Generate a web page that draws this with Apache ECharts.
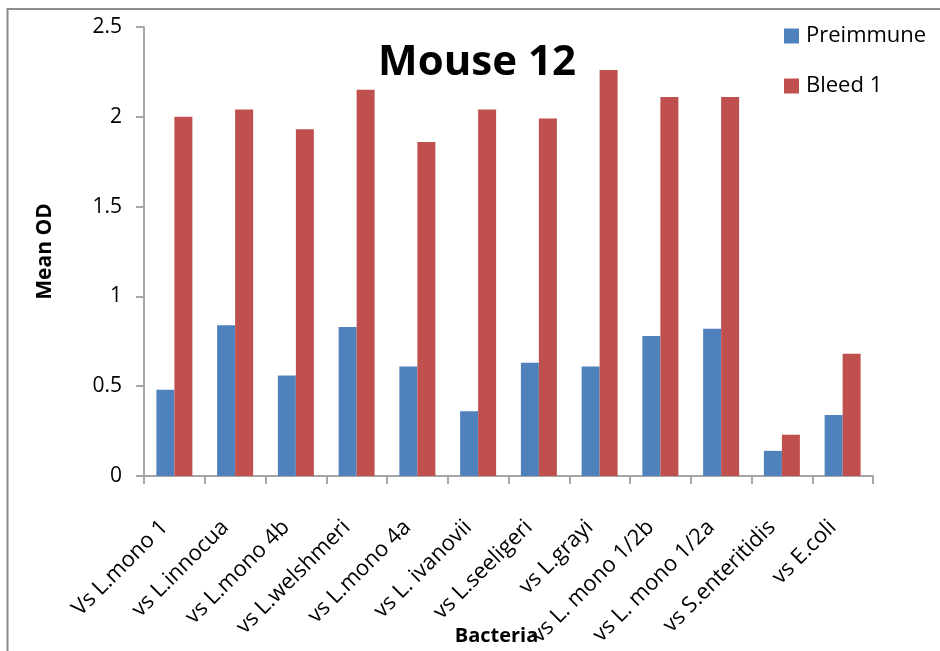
<!DOCTYPE html>
<html>
<head>
<meta charset="utf-8">
<script src="https://cdn.jsdelivr.net/npm/echarts@6/dist/echarts.min.js"></script>
<style>
  html, body { margin: 0; padding: 0; background: #fff; }
  #chart { width: 940px; height: 651px; }
</style>
</head>
<body>
<div id="chart"></div>
<script>
// Mean OD per bacterium, preimmune serum vs first bleed
const categories = [
  'Vs L.mono 1', 'vs L.innocua', 'vs L.mono 4b', 'vs L.welshmeri',
  'vs L.mono 4a', 'vs L. ivanovii', 'vs L.seeligeri', 'vs L.grayi',
  'vs L. mono 1/2b', 'vs L. mono 1/2a', 'vs S.enteritidis', 'vs E.coli'
];
const preimmune = [0.48, 0.84, 0.56, 0.83, 0.61, 0.36, 0.63, 0.61, 0.78, 0.82, 0.14, 0.34];
const bleed1 = [2.00, 2.04, 1.93, 2.15, 1.86, 2.04, 1.99, 2.26, 2.11, 2.11, 0.23, 0.68];
const yTicks = [0, 0.5, 1, 1.5, 2, 2.5];

const chart = echarts.init(document.getElementById('chart'));
const axisGray = '#a6a6a6';
const font = '"Open Sans", "Noto Sans", sans-serif';

chart.setOption({
  animation: false,
  backgroundColor: '#fff',
  textStyle: { fontFamily: font },
  title: {
    text: 'Mouse 12',
    left: 472,
    top: 37,
    textAlign: 'center',
    textStyle: { fontFamily: font, fontSize: 42, fontWeight: 'bold', color: '#000' }
  },
  legend: {
    orient: 'vertical',
    left: 779,
    top: 20,
    itemWidth: 15,
    itemHeight: 15,
    itemGap: 28,
    icon: 'rect',
    textStyle: { fontFamily: font, fontSize: 22, color: '#000', lineHeight: 22, padding: [0, 0, 0, 2] },
    data: ['Preimmune', 'Bleed 1']
  },
  grid: { left: 144, right: 67, top: 27, bottom: 175, containLabel: false, outerBoundsMode: 'none' },
  xAxis: {
    type: 'category',
    data: categories,
    name: 'Bacteria',
    nameLocation: 'middle',
    nameGap: 150,
    nameMoveOverlap: false,
    nameTextStyle: { fontFamily: font, fontSize: 20, fontWeight: 'bold', color: '#000', padding: [0, 24, 0, 0] },
    axisLine: { lineStyle: { color: axisGray, width: 2 } },
    axisTick: { show: true, length: 8, lineStyle: { color: axisGray, width: 2 } },
    axisLabel: {
      rotate: 45,
      interval: 0,
      margin: 38,
      padding: [0, 14, 0, 0],
      fontFamily: font,
      fontSize: 22,
      color: '#000'
    }
  },
  yAxis: {
    type: 'value',
    min: yTicks[0],
    max: yTicks[yTicks.length - 1],
    interval: 0.5,
    name: 'Mean OD',
    nameLocation: 'middle',
    nameGap: 88,
    nameRotate: 90,
    nameMoveOverlap: false,
    nameTextStyle: { fontFamily: font, fontSize: 21, fontWeight: 'bold', color: '#000' },
    axisLine: { show: true, lineStyle: { color: axisGray, width: 2 } },
    axisTick: { show: true, length: 8, lineStyle: { color: axisGray, width: 2 } },
    splitLine: { show: false },
    axisLabel: {
      margin: 22,
      fontFamily: font,
      fontSize: 21,
      color: '#000',
      formatter: v => String(v)
    }
  },
  series: [
    {
      name: 'Preimmune',
      type: 'bar',
      data: preimmune,
      barWidth: 18,
      barGap: '0%',
      itemStyle: { color: '#4F81BD' }
    },
    {
      name: 'Bleed 1',
      type: 'bar',
      data: bleed1,
      barWidth: 18,
      barGap: '0%',
      itemStyle: { color: '#C0504D' }
    }
  ],
  graphic: [
    {
      type: 'rect',
      shape: { x: 7.5, y: 9, width: 1000, height: 1000 },
      style: { fill: 'none', stroke: '#8c8c8c', lineWidth: 2 },
      silent: true
    }
  ]
});
</script>
</body>
</html>
